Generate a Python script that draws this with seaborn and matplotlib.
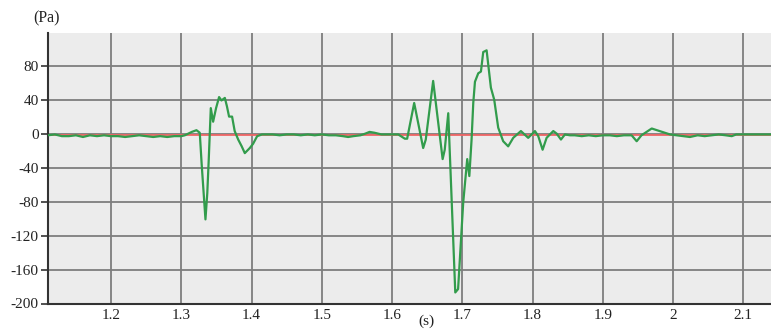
import matplotlib
matplotlib.use("Agg")
import matplotlib.pyplot as plt
import seaborn as sns
import pandas as pd

# ---- data ----
time_s = [
    1.110, 1.120, 1.130, 1.140, 1.150, 1.160, 1.170, 1.180, 1.190, 1.200,
    1.210, 1.220, 1.230, 1.240, 1.250, 1.260, 1.270, 1.280, 1.290, 1.300,
    1.305, 1.310, 1.315, 1.3216, 1.3263, 1.329, 1.3344, 1.337, 1.339, 1.342,
    1.3453, 1.3495, 1.3538, 1.3572, 1.362, 1.365, 1.368, 1.3723, 1.376, 1.381,
    1.386, 1.3904, 1.3975, 1.4022, 1.408, 1.415,
    1.420, 1.430, 1.440, 1.450, 1.460, 1.470, 1.480, 1.490, 1.500, 1.510,
    1.520, 1.530, 1.5375, 1.545, 1.555, 1.562, 1.568, 1.575, 1.585, 1.595,
    1.6088, 1.6182, 1.6215, 1.6315, 1.6443, 1.648, 1.6585, 1.672, 1.675, 1.680,
    1.690, 1.694, 1.7013, 1.707, 1.710, 1.7132, 1.7156, 1.718, 1.7227, 1.7265,
    1.7298, 1.7346, 1.7369, 1.7407, 1.7454, 1.7511, 1.7582, 1.7653, 1.7725, 1.7834,
    1.7938, 1.8034, 1.8081, 1.8143, 1.820, 1.8295, 1.8343, 1.8404, 1.8461, 1.8532,
    1.860, 1.870, 1.880, 1.890, 1.900, 1.910, 1.920, 1.930, 1.941, 1.9482,
    1.955, 1.9696, 1.9957, 2.005, 2.015, 2.024, 2.035, 2.045, 2.055, 2.065,
    2.075, 2.0835, 2.090, 2.100, 2.110, 2.120, 2.130, 2.140,
]
pressure_pa = [
    -2, -1, -3, -3, -2, -4, -2, -3, -2, -3,
    -3, -4, -3, -2, -3, -4, -3, -4, -3, -3,
    -2, 0, 2, 4, 1, -36, -101, -70, -32, 30,
    14, 30, 43, 39, 42, 32, 20, 20, 3, -7,
    -15, -23, -17, -12, -3, -1,
    -1, -1, -2, -1, -1, -2, -1, -2, -1, -2,
    -2, -3, -4, -3, -2, 0, 2, 1, -1, -1,
    -1, -6, -6, 36, -17, -7, 62, -30, -19, 24,
    -187, -183, -81, -30, -50, -7, 36, 61, 71, 73,
    96, 98, 81, 54, 40, 7, -9, -15, -5, 3,
    -5, 3, -3, -19, -5, 3, 0, -7, -1, -2,
    -2, -3, -2, -3, -2, -2, -3, -2, -2, -9,
    -2, 6, -1, -2, -3, -4, -2, -3, -2, -1,
    -2, -3, -1, -1, -1, -1, -1, -1,
]
baseline_pa = -2
y_ticks = [-200, -160, -120, -80, -40, 0, 40, 80]
x_ticks = [1.2, 1.3, 1.4, 1.5, 1.6, 1.7, 1.8, 1.9, 2.0, 2.1]
x_tick_labels = ["1.2", "1.3", "1.4", "1.5", "1.6", "1.7", "1.8", "1.9", "2", "2.1"]

df = pd.DataFrame({"t": time_s, "p": pressure_pa})

sns.set_theme(style="white")
plt.rcParams["font.family"] = ["Liberation Serif", "DejaVu Serif"]

fig = plt.figure(figsize=(7.71, 3.29), dpi=100)
ax = fig.add_axes([48.3 / 771, 1 - 303.5 / 329, 1 - 48.3 / 771, (303.5 - 32.5) / 329])
ax.set_facecolor("#ececec")

ax.axhline(baseline_pa, color="#f06565", lw=1.3, zorder=2)
sns.lineplot(data=df, x="t", y="p", ax=ax, color="#329c4c", lw=1.6,
             estimator=None, sort=False, zorder=3)

ax.set_xlim(1.1107, 2.1394)
ax.set_ylim(-200, 119)
ax.set_xticks(x_ticks)
ax.set_xticklabels(x_tick_labels)
ax.set_yticks(y_ticks)
ax.set_yticklabels([str(v) for v in y_ticks])

ax.grid(True, color="#7e7e7e", lw=1.3, zorder=1)
ax.set_axisbelow(True)
for s in ["top", "right"]:
    ax.spines[s].set_visible(False)
for s in ["left", "bottom"]:
    ax.spines[s].set_color("#333333")
    ax.spines[s].set_linewidth(1.5)

ax.tick_params(axis="y", length=5, width=1.2, color="#333333", labelsize=11,
               labelcolor="#222222", pad=2, left=True)
ax.tick_params(axis="x", length=0, labelsize=11, labelcolor="#222222", pad=4)
ax.set_xlabel("")
ax.set_ylabel("")

fig.text(46 / 771, 1 - 18 / 329, "(Pa)", ha="center", va="center",
         fontsize=11.5, color="#222222")
fig.text(426 / 771, 0.5 / 329, "(s)", ha="center", va="bottom",
         fontsize=11, color="#222222")

fig.savefig("out.png", dpi=100)
